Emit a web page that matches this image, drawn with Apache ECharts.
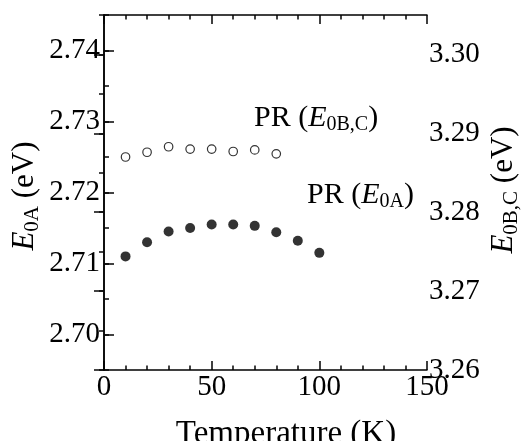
<!DOCTYPE html>
<html>
<head>
<meta charset="utf-8">
<script src="https://cdn.jsdelivr.net/npm/echarts@6/dist/echarts.min.js"></script>
<style>html,body{margin:0;padding:0;background:#fff;}#c{width:524px;height:441px;}</style>
</head>
<body>
<div id="c"></div>
<script>
// Data
const temps = [10, 20, 30, 40, 50, 60, 70, 80, 90, 100];
const e0A = [2.7110, 2.7130, 2.7145, 2.7150, 2.7155, 2.7155, 2.7153, 2.7144, 2.7132, 2.7115];
const tempsBC = [10, 20, 30, 40, 50, 60, 70, 80];
const e0BC = [3.2870, 3.2876, 3.2883, 3.2880, 3.2880, 3.2877, 3.2879, 3.2874];
const xTicks = [0, 50, 100, 150];
const xMinor = [10, 20, 30, 40, 60, 70, 80, 90, 110, 120, 130, 140];
const leftTicks = [2.70, 2.71, 2.72, 2.73, 2.74];

const FONT = "'Liberation Serif', 'Times New Roman', serif";
const grid = { left: 104, right: 97, top: 15, bottom: 71 };
function line() { return { show: true, lineStyle: { color: '#000', width: 1.5 } }; }
function customTicks(values, len, c) {
  return { show: true, inside: true, length: len, customValues: values, lineStyle: { color: c, width: 1.5 } };
}
function plainTicks(len, c) {
  return { show: true, inside: true, length: len, lineStyle: { color: c, width: 1.5 } };
}
function labelOn01(v) {
  return Math.abs(v * 100 - Math.round(v * 100)) < 1e-6 ? v.toFixed(2) : '';
}

const chart = echarts.init(document.getElementById('c'));
chart.setOption({
  animation: false,
  grid: [Object.assign({}, grid), Object.assign({}, grid)],
  xAxis: [
    { gridIndex: 0, type: 'value', position: 'bottom', min: 0, max: 150, interval: 50,
      axisLine: line(), splitLine: { show: false }, axisTick: customTicks(xTicks, 9, '#010101'),
      axisLabel: { color: '#000', fontFamily: FONT, fontSize: 29, margin: 3, customValues: xTicks } },
    { gridIndex: 0, type: 'value', position: 'top', min: 0, max: 150, interval: 50,
      axisLine: line(), splitLine: { show: false }, axisTick: customTicks(xTicks, 9, '#020202'),
      axisLabel: { show: false } },
    { gridIndex: 1, type: 'value', position: 'bottom', min: 0, max: 150,
      axisLine: { show: false }, splitLine: { show: false }, axisTick: customTicks(xMinor, 4.5, '#030303'),
      axisLabel: { show: false } },
    { gridIndex: 1, type: 'value', position: 'top', min: 0, max: 150,
      axisLine: { show: false }, splitLine: { show: false }, axisTick: customTicks(xMinor, 4.5, '#040404'),
      axisLabel: { show: false } }
  ],
  yAxis: [
    { gridIndex: 0, type: 'value', position: 'left', min: 2.695, max: 2.745,
      axisLine: line(), splitLine: { show: false }, axisTick: customTicks(leftTicks, 10, '#050505'),
      axisLabel: { color: '#000', fontFamily: FONT, fontSize: 29, margin: 4, customValues: leftTicks,
        formatter: v => v.toFixed(2) } },
    { gridIndex: 0, type: 'value', position: 'right', min: 3.26, max: 3.305, interval: 0.01,
      axisLine: line(), splitLine: { show: false }, axisTick: plainTicks(10, '#060606'),
      axisLabel: { color: '#000', fontFamily: FONT, fontSize: 29, margin: 2, showMaxLabel: false,
        formatter: labelOn01 } },
    { gridIndex: 1, type: 'value', position: 'left', min: 2.695, max: 2.745, interval: 0.005,
      axisLine: { show: false }, splitLine: { show: false }, axisTick: plainTicks(5, '#070707'),
      axisLabel: { show: false } },
    { gridIndex: 1, type: 'value', position: 'right', min: 3.26, max: 3.305, interval: 0.005,
      axisLine: { show: false }, splitLine: { show: false }, axisTick: plainTicks(5, '#080808'),
      axisLabel: { show: false } }
  ],
  series: [
    { name: 'PR (E0A)', type: 'scatter', xAxisIndex: 0, yAxisIndex: 0,
      data: temps.map((t, i) => [t, e0A[i]]),
      symbol: 'circle', symbolSize: 10, itemStyle: { color: '#000' } },
    { name: 'PR (E0B,C)', type: 'scatter', xAxisIndex: 0, yAxisIndex: 1,
      data: tempsBC.map((t, i) => [t, e0BC[i]]),
      symbol: 'circle', symbolSize: 8.5,
      itemStyle: { color: '#fff', borderColor: '#000', borderWidth: 1.2 } }
  ],
  graphic: [
    { type: 'text', x: 286, y: 434, style: { text: 'Temperature (K)', font: '33px ' + FONT, fill: '#000', align: 'center', verticalAlign: 'middle' } },
    { type: 'text', x: 25, y: 196, rotation: Math.PI / 2,
      style: { text: '{i|E}{s|0A}{n| (eV)}', align: 'center', verticalAlign: 'middle',
        rich: {
          i: { fontFamily: FONT, fontSize: 31, fontStyle: 'italic', lineHeight: 36, fill: '#000' },
          n: { fontFamily: FONT, fontSize: 31, lineHeight: 36, fill: '#000' },
          s: { fontFamily: FONT, fontSize: 21, lineHeight: 20, verticalAlign: 'bottom', fill: '#000' } } } },
    { type: 'text', x: 504, y: 190, rotation: Math.PI / 2,
      style: { text: '{i|E}{s|0B,C}{n| (eV)}', align: 'center', verticalAlign: 'middle',
        rich: {
          i: { fontFamily: FONT, fontSize: 31, fontStyle: 'italic', lineHeight: 36, fill: '#000' },
          n: { fontFamily: FONT, fontSize: 31, lineHeight: 36, fill: '#000' },
          s: { fontFamily: FONT, fontSize: 21, lineHeight: 20, verticalAlign: 'bottom', fill: '#000' } } } },
    { type: 'text', x: 254, y: 118,
      style: { text: '{n|PR (}{i|E}{s|0B,C}{n|)}', align: 'left', verticalAlign: 'middle',
        rich: {
          i: { fontFamily: FONT, fontSize: 30, fontStyle: 'italic', lineHeight: 34, fill: '#000' },
          n: { fontFamily: FONT, fontSize: 30, lineHeight: 34, fill: '#000' },
          s: { fontFamily: FONT, fontSize: 20, lineHeight: 19, verticalAlign: 'bottom', fill: '#000' } } } },
    { type: 'text', x: 307, y: 195,
      style: { text: '{n|PR (}{i|E}{s|0A}{n|)}', align: 'left', verticalAlign: 'middle',
        rich: {
          i: { fontFamily: FONT, fontSize: 30, fontStyle: 'italic', lineHeight: 34, fill: '#000' },
          n: { fontFamily: FONT, fontSize: 30, lineHeight: 34, fill: '#000' },
          s: { fontFamily: FONT, fontSize: 20, lineHeight: 19, verticalAlign: 'bottom', fill: '#000' } } } }
  ]
});
</script>
</body>
</html>
